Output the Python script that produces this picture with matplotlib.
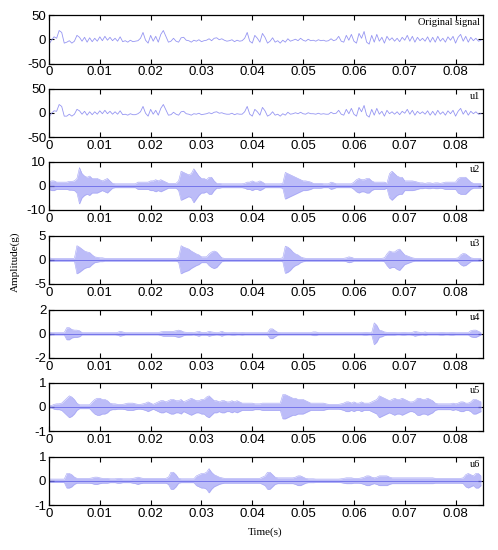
import numpy as np
import matplotlib
matplotlib.use('Agg')
import matplotlib.pyplot as plt

plt.rcParams['axes.unicode_minus'] = False

# ------------------------------------
# Datos
# ------------------------------------
dt_wave = 0.0005   # paso para las señales con forma visible
dt_env = 0.0005    # paso para las envolventes de los modos rapidos

original = [-10, -2, 5, 2, 18, 14, -8, -6, -3, -8, -4, 8, 4, -4, 4, -6, 3, -5, 2, -4,
            5, -3, 6, -2, 4, -3, 2, -4, 5, -5, -3, -6, -2, -5, -4, -3, 2, 14, -2, -8,
            8, -4, 6, -6, 10, 18, 6, -6, -4, 2, -4, -6, 3, 4, -2, -3, -6, -2, -4, -1,
            -5, -3, -2, 1, -3, 2, 3, -1, 1, -2, -4, -3, -1, -5, -2, -4, -3, 2, 14, -4,
            -8, 8, 2, -6, 12, 4, -8, -4, 3, -6, -3, -8, -2, -6, 1, -4, -2, 0, -3, 2,
            -2, -4, 0, -3, -2, -4, -1, -3, -2, -4, -3, 1, -3, -1, 6, -4, -6, 8, -2, 10,
            -4, -8, 12, 2, 16, -6, -10, 8, -6, 10, -4, 4, -8, 6, -2, 3, -4, 2, -5, 4,
            -2, 8, -4, 6, -6, 4, -3, 2, -4, 5, -6, 4, -6, 6, -4, 2, -6, 5, -2, 6,
            -8, 4, 10, -4, 6, -6, 4, -3, 2, -4, -2]

u1 = [-9, -1, 4, 3, 17, 13, -7, -7, -3, -7, -3, 7, 4, -3, 3, -5, 2, -4, 2, -3,
      4, -2, 5, -2, 3, -3, 2, -3, 4, -4, -3, -5, -2, -4, -4, -2, 2, 13, -1, -7,
      7, -3, 5, -5, 9, 17, 6, -5, -4, 1, -3, -5, 2, 3, -2, -3, -5, -2, -3, -1,
      -4, -3, -2, 0, -2, 1, 2, -1, 0, -2, -3, -3, -1, -4, -2, -3, -3, 2, 13, -3,
      -7, 7, 2, -5, 11, 4, -7, -4, 2, -5, -3, -7, -2, -5, 1, -3, -2, 0, -2, 1,
      -2, -3, 0, -2, -2, -3, -1, -3, -2, -3, -3, 1, -2, -1, 5, -3, -5, 7, -2, 9,
      -3, -7, 11, 2, 15, -5, -9, 7, -5, 9, -3, 3, -7, 5, -2, 2, -3, 2, -4, 3,
      -1, 7, -3, 5, -5, 3, -2, 2, -3, 4, -5, 3, -5, 5, -3, 2, -5, 4, -2, 5,
      -7, 3, 9, -3, 5, -5, 3, -2, 2, -3, -2]

# envolventes (amplitud maxima) de u2..u6
u2_env = [1.5, 2.0, 2.0, 1.5, 1.5, 1.5, 1.5, 1.5, 1.8, 1.8, 2.0, 3.0, 7.5, 5.0, 4.0, 3.5, 4.0, 3.0, 3.0, 3.0,
          2.5, 2.0, 2.5, 3.0, 2.0, 1.0, 0.8, 0.8, 0.8, 0.8, 0.8, 0.8, 0.8, 0.8, 0.8, 1.5, 1.5, 1.5, 1.5, 1.5,
          2.0, 2.0, 2.5, 2.0, 2.5, 2.0, 1.5, 1.0, 1.0, 1.0, 1.0, 2.0, 6.0, 5.5, 5.0, 4.5, 5.0, 7.0, 5.5, 4.0,
          3.0, 3.0, 2.5, 3.5, 3.5, 2.0, 1.0, 1.0, 0.8, 0.8, 0.8, 0.8, 0.8, 0.8, 0.8, 0.8, 0.8, 1.0, 1.5, 1.5,
          2.0, 1.5, 1.5, 2.0, 1.5, 0.8, 0.8, 0.8, 0.8, 0.8, 0.8, 0.8, 1.0, 5.5, 5.0, 4.5, 4.0, 3.5, 3.0, 2.5,
          2.0, 2.0, 1.8, 1.5, 1.0, 1.0, 1.0, 1.0, 0.8, 0.8, 0.8, 1.5, 1.2, 0.8, 0.8, 0.8, 0.8, 0.8, 0.8, 0.8,
          1.5, 2.5, 3.0, 2.5, 2.5, 3.0, 3.0, 2.0, 1.5, 1.5, 1.5, 1.5, 1.5, 1.0, 5.0, 6.0, 5.0, 4.0, 3.5, 3.5,
          2.0, 2.0, 2.0, 2.0, 1.8, 1.5, 1.2, 1.2, 1.0, 1.2, 1.2, 1.0, 1.2, 1.2, 1.0, 1.2, 1.5, 1.5, 1.5, 1.5,
          1.5, 3.0, 3.5, 3.5, 3.5, 2.5, 1.5, 1.0, 1.0, 1.0, 1.0]

u3_env = [0.4, 0.3, 0.3, 0.3, 0.3, 0.3, 0.3, 0.3, 0.3, 0.3, 0.3, 2.9, 2.6, 2.2, 1.8, 1.6, 1.5, 1.0, 0.6, 0.5,
          0.4, 0.4, 0.3, 0.3, 0.3, 0.3, 0.3, 0.3, 0.3, 0.3, 0.3, 0.3, 0.3, 0.3, 0.3, 0.3, 0.3, 0.3, 0.3, 0.3,
          0.3, 0.3, 0.3, 0.3, 0.3, 0.3, 0.3, 0.3, 0.3, 0.3, 0.3, 0.5, 2.9, 2.6, 2.4, 2.2, 1.8, 1.5, 1.2, 1.0,
          0.6, 0.6, 0.6, 1.2, 1.6, 1.8, 1.6, 1.0, 0.4, 0.3, 0.3, 0.3, 0.3, 0.3, 0.3, 0.3, 0.3, 0.3, 0.3, 0.3,
          0.3, 0.3, 0.3, 0.3, 0.3, 0.3, 0.3, 0.3, 0.3, 0.3, 0.3, 0.3, 0.4, 2.8, 2.6, 2.2, 1.6, 1.2, 1.0, 0.6,
          0.4, 0.3, 0.3, 0.3, 0.3, 0.3, 0.3, 0.3, 0.3, 0.3, 0.3, 0.3, 0.3, 0.3, 0.3, 0.3, 0.3, 0.4, 0.6, 0.5,
          0.3, 0.3, 0.3, 0.3, 0.3, 0.3, 0.3, 0.3, 0.3, 0.3, 0.3, 0.3, 0.4, 1.2, 1.8, 1.6, 1.6, 2.0, 2.2, 1.6,
          1.0, 0.8, 0.6, 0.4, 0.3, 0.3, 0.3, 0.3, 0.3, 0.3, 0.3, 0.3, 0.3, 0.3, 0.3, 0.3, 0.3, 0.3, 0.3, 0.3,
          0.3, 0.4, 1.0, 1.3, 1.2, 0.8, 0.4, 0.3, 0.3, 0.3, 0.3]

u4_env = [0.15, 0.1, 0.1, 0.1, 0.1, 0.1, 0.1, 0.5, 0.5, 0.35, 0.3, 0.3, 0.25, 0.1, 0.1, 0.1, 0.1, 0.1, 0.1, 0.1,
          0.1, 0.1, 0.1, 0.1, 0.1, 0.1, 0.1, 0.12, 0.2, 0.15, 0.1, 0.1, 0.1, 0.1, 0.1, 0.1, 0.1, 0.1, 0.1, 0.1,
          0.1, 0.1, 0.1, 0.1, 0.15, 0.2, 0.2, 0.2, 0.2, 0.2, 0.25, 0.3, 0.25, 0.15, 0.12, 0.12, 0.12, 0.1, 0.15, 0.2,
          0.12, 0.12, 0.12, 0.2, 0.15, 0.12, 0.1, 0.12, 0.2, 0.12, 0.1, 0.1, 0.12, 0.12, 0.1, 0.1, 0.12, 0.1, 0.1, 0.1,
          0.1, 0.1, 0.1, 0.1, 0.1, 0.1, 0.1, 0.4, 0.4, 0.25, 0.12, 0.1, 0.1, 0.1, 0.1, 0.1, 0.1, 0.1, 0.1, 0.1,
          0.1, 0.1, 0.1, 0.1, 0.15, 0.15, 0.1, 0.1, 0.1, 0.1, 0.1, 0.1, 0.1, 0.1, 0.1, 0.1, 0.1, 0.1, 0.1, 0.1,
          0.1, 0.1, 0.1, 0.1, 0.12, 0.12, 0.1, 0.1, 0.9, 0.7, 0.3, 0.25, 0.15, 0.12, 0.12, 0.12, 0.12, 0.1, 0.1, 0.12,
          0.12, 0.1, 0.1, 0.12, 0.2, 0.15, 0.12, 0.1, 0.15, 0.1, 0.1, 0.1, 0.1, 0.1, 0.12, 0.12, 0.1, 0.1, 0.12, 0.12,
          0.1, 0.1, 0.1, 0.1, 0.1, 0.1, 0.25, 0.3, 0.3, 0.2, 0.1]

u5_env = [0.05, 0.05, 0.1, 0.12, 0.12, 0.15, 0.25, 0.35, 0.45, 0.4, 0.3, 0.15, 0.08, 0.08, 0.08, 0.08, 0.08, 0.2, 0.3, 0.35,
          0.35, 0.3, 0.3, 0.25, 0.15, 0.12, 0.12, 0.1, 0.1, 0.1, 0.12, 0.15, 0.15, 0.15, 0.12, 0.1, 0.1, 0.12, 0.15, 0.2,
          0.15, 0.1, 0.15, 0.2, 0.25, 0.25, 0.2, 0.25, 0.3, 0.3, 0.25, 0.25, 0.3, 0.2, 0.25, 0.3, 0.35, 0.3, 0.25, 0.25,
          0.3, 0.3, 0.4, 0.45, 0.35, 0.25, 0.25, 0.2, 0.25, 0.25, 0.2, 0.2, 0.25, 0.2, 0.25, 0.2, 0.15, 0.15, 0.15, 0.15,
          0.15, 0.12, 0.12, 0.12, 0.15, 0.15, 0.15, 0.15, 0.15, 0.15, 0.15, 0.15, 0.5, 0.5, 0.45, 0.4, 0.35, 0.35, 0.3, 0.3,
          0.3, 0.25, 0.2, 0.15, 0.15, 0.15, 0.15, 0.15, 0.15, 0.12, 0.1, 0.1, 0.1, 0.1, 0.1, 0.12, 0.15, 0.2, 0.2, 0.15,
          0.2, 0.15, 0.15, 0.2, 0.15, 0.15, 0.15, 0.2, 0.25, 0.3, 0.45, 0.4, 0.35, 0.3, 0.25, 0.3, 0.35, 0.3, 0.3, 0.35,
          0.3, 0.25, 0.2, 0.2, 0.25, 0.35, 0.35, 0.3, 0.3, 0.35, 0.3, 0.25, 0.15, 0.12, 0.12, 0.12, 0.12, 0.12, 0.12, 0.15,
          0.12, 0.15, 0.2, 0.2, 0.15, 0.15, 0.2, 0.3, 0.3, 0.25, 0.2]

u6_env = [0.07, 0.07, 0.07, 0.07, 0.07, 0.07, 0.07, 0.3, 0.3, 0.25, 0.15, 0.1, 0.1, 0.1, 0.1, 0.1, 0.1, 0.12, 0.15, 0.15,
          0.12, 0.1, 0.1, 0.1, 0.08, 0.08, 0.08, 0.1, 0.1, 0.08, 0.08, 0.08, 0.08, 0.1, 0.12, 0.15, 0.12, 0.1, 0.1, 0.1,
          0.1, 0.1, 0.1, 0.1, 0.1, 0.1, 0.1, 0.15, 0.35, 0.35, 0.25, 0.1, 0.08, 0.08, 0.08, 0.08, 0.08, 0.08, 0.2, 0.25,
          0.3, 0.3, 0.35, 0.5, 0.35, 0.25, 0.2, 0.15, 0.12, 0.1, 0.1, 0.1, 0.1, 0.1, 0.1, 0.1, 0.1, 0.1, 0.1, 0.1,
          0.1, 0.1, 0.1, 0.1, 0.15, 0.2, 0.35, 0.35, 0.25, 0.15, 0.12, 0.12, 0.12, 0.12, 0.12, 0.12, 0.12, 0.15, 0.2, 0.2,
          0.15, 0.1, 0.08, 0.08, 0.08, 0.07, 0.07, 0.07, 0.07, 0.07, 0.07, 0.07, 0.07, 0.07, 0.07, 0.08, 0.1, 0.12, 0.12, 0.12,
          0.1, 0.1, 0.1, 0.12, 0.15, 0.2, 0.2, 0.15, 0.12, 0.15, 0.2, 0.2, 0.2, 0.2, 0.15, 0.12, 0.12, 0.12, 0.12, 0.12,
          0.12, 0.12, 0.12, 0.12, 0.12, 0.12, 0.12, 0.12, 0.12, 0.12, 0.12, 0.12, 0.1, 0.1, 0.1, 0.1, 0.1, 0.1, 0.1, 0.1,
          0.1, 0.1, 0.1, 0.12, 0.25, 0.3, 0.25, 0.2, 0.3, 0.3, 0.2]

wave_series = [('Original signal', original, 50), ('u1', u1, 50)]
env_series = [('u2', u2_env, 10), ('u3', u3_env, 5), ('u4', u4_env, 2),
              ('u5', u5_env, 1), ('u6', u6_env, 1)]

# ------------------------------------
# Figura
# ------------------------------------
fig = plt.figure(figsize=(4.98, 5.5), dpi=100)
W, H = 498.0, 550.0
left_px, right_px = 49, 482.5
tops_px = [15, 88.5, 161.5, 235.5, 309.5, 382.5, 456.5]
alto_px = 48.5
x_max = 0.0853

line_col = '#9696f2'
fill_col = '#bcbcf8'
edge_col = '#a4a4f5'
core_col = '#6a6ae8'

def formato(ax, nombre, lim):
    ax.set_xlim(0, x_max)
    ax.set_ylim(-lim, lim)
    ax.set_xticks([0, 0.01, 0.02, 0.03, 0.04, 0.05, 0.06, 0.07, 0.08])
    ax.set_xticklabels(['0', '0.01', '0.02', '0.03', '0.04', '0.05', '0.06', '0.07', '0.08'])
    ax.set_yticks([-lim, 0, lim])
    ax.set_yticklabels([str(-lim), '0', str(lim)])
    ax.tick_params(direction='in', top=True, right=True, length=3.5, width=0.8,
                   labelsize=9.5, pad=2)
    for lab in ax.get_xticklabels() + ax.get_yticklabels():
        lab.set_fontfamily('Liberation Sans')
    for s in ax.spines.values():
        s.set_linewidth(0.9)
    ax.text(0.995, 0.93, nombre, transform=ax.transAxes, ha='right', va='top',
            fontsize=7.5, family='Liberation Serif')

axes = []
for i in range(7):
    bottom = 1 - (tops_px[i] + alto_px) / H
    ax = fig.add_axes([left_px / W, bottom, (right_px - left_px) / W, alto_px / H])
    axes.append(ax)

for ax, (nombre, datos, lim) in zip(axes[:2], wave_series):
    t = np.arange(len(datos)) * dt_wave
    ax.plot(t, datos, color=line_col, linewidth=0.6)
    formato(ax, nombre, lim)

for ax, (nombre, env, lim) in zip(axes[2:], env_series):
    t = np.arange(len(env)) * dt_env
    env = np.array(env)
    ax.fill_between(t, -env, env, color=fill_col, linewidth=0)
    ax.plot(t, env, color=edge_col, linewidth=0.4)
    ax.plot(t, -env, color=edge_col, linewidth=0.4)
    ax.plot(t, np.zeros_like(t), color=core_col, linewidth=0.6)
    formato(ax, nombre, lim)

fig.text(15 / W, 1 - 262 / H, 'Amplitude(g)', rotation=90, ha='center', va='center',
         fontsize=8, family='Liberation Serif')
fig.text(265 / W, 1 - 532 / H, 'Time(s)', ha='center', va='center',
         fontsize=8, family='Liberation Serif')

fig.savefig('out.png', dpi=100)
